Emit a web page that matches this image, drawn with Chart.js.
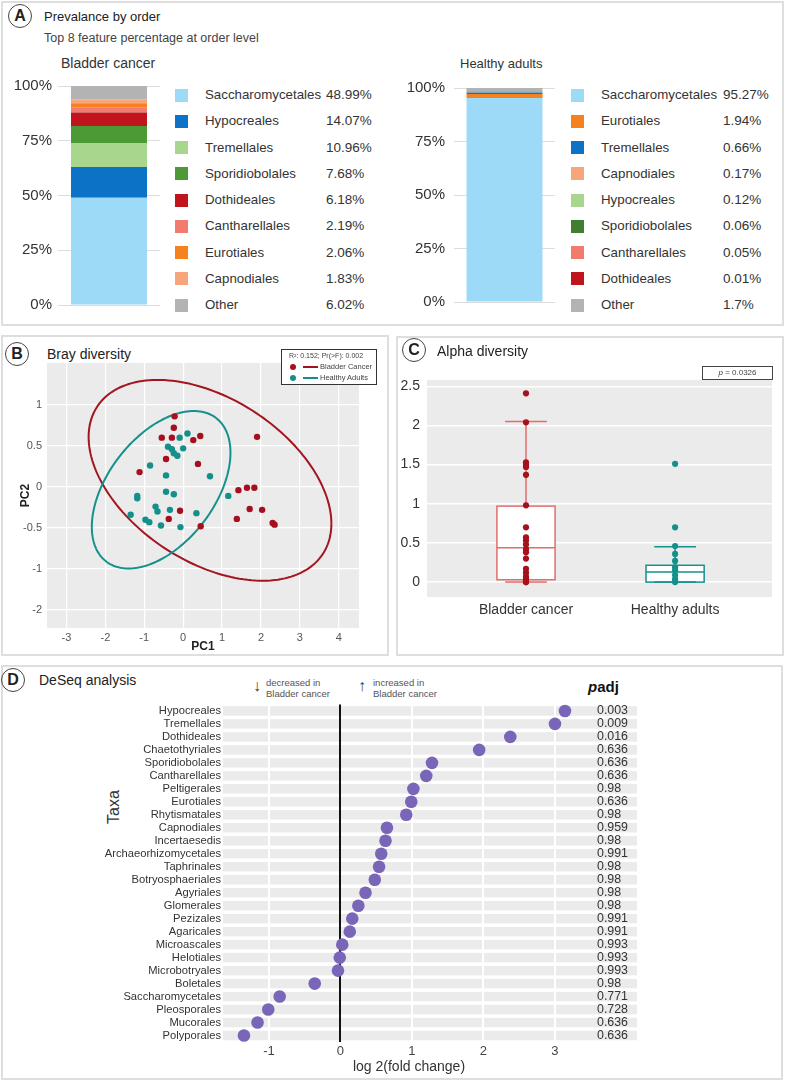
<!DOCTYPE html>
<html>
<head>
<meta charset="utf-8">
<script src="https://cdn.jsdelivr.net/npm/chart.js@4.4.1/dist/chart.umd.min.js"></script>
<style>
body{margin:0;width:785px;height:1082px;position:relative;background:#fff;font-family:"Liberation Sans",Arial,sans-serif;color:#333;overflow:hidden}
.panel{position:absolute;border:2px solid #dedede;box-sizing:border-box}
.t{position:absolute;white-space:nowrap}
.tag{position:absolute;width:22px;height:22px;border:1.5px solid #444;border-radius:50%;font-weight:bold;font-size:16px;text-align:center;line-height:22px;color:#222}
.wrap{position:absolute}
.sq{position:absolute;width:13px;height:13px}
</style>
</head>
<body>
<!-- panel frames -->
<div class="panel" style="left:1px;top:1px;width:783px;height:325px"></div>
<div class="panel" style="left:1px;top:335px;width:388px;height:321px"></div>
<div class="panel" style="left:396px;top:336px;width:388px;height:320px"></div>
<div class="panel" style="left:1px;top:665px;width:782px;height:415px"></div>

<!-- A -->
<div class="tag" style="left:8px;top:4px">A</div>
<div class="t" style="left:44px;top:9px;font-size:13px;color:#222">Prevalance by order</div>
<div class="t" style="left:44px;top:31px;font-size:12.5px;color:#444">Top 8 feature percentage at order level</div>
<div class="t" style="left:61px;top:55px;font-size:14px">Bladder cancer</div>
<div class="t" style="left:460px;top:56px;font-size:13px">Healthy adults</div>
<div class="wrap" style="left:0;top:70px;width:170px;height:250px"><canvas id="a1" width="170" height="250"></canvas></div>
<div class="wrap" style="left:390px;top:70px;width:175px;height:250px"><canvas id="a2" width="175" height="250"></canvas></div>
<div id="legA1"></div>
<div id="legA2"></div>

<!-- B -->
<div class="tag" style="left:5px;top:342px">B</div>
<div class="t" style="left:47px;top:346px;font-size:14px;color:#222">Bray diversity</div>
<div class="wrap" style="left:4px;top:340px;width:362px;height:315px"><canvas id="b" width="362" height="315"></canvas></div>
<div class="t" style="left:281px;top:349px;width:96px;height:36px;border:1px solid #333;background:#fff;box-sizing:border-box">
  <div class="t" style="left:7px;top:2px;font-size:7px;color:#444">R²: 0.152; Pr(&gt;F): 0.002</div>
  <div class="t" style="left:8px;top:14px;width:6px;height:6px;border-radius:50%;background:#a50f1e"></div>
  <div class="t" style="left:21px;top:16px;width:15px;height:2px;background:#a50f1e"></div>
  <div class="t" style="left:38px;top:12px;font-size:7.5px;color:#444">Bladder Cancer</div>
  <div class="t" style="left:8px;top:25px;width:6px;height:6px;border-radius:50%;background:#14908b"></div>
  <div class="t" style="left:21px;top:27px;width:15px;height:2px;background:#14908b"></div>
  <div class="t" style="left:38px;top:23px;font-size:7.5px;color:#444">Healthy Adults</div>
</div>

<!-- C -->
<div class="tag" style="left:402px;top:338px">C</div>
<div class="t" style="left:437px;top:343px;font-size:14px;color:#222">Alpha diversity</div>
<div class="t" style="left:702px;top:366px;width:71px;height:14px;border:1px solid #444;box-sizing:border-box;font-size:8px;text-align:center;line-height:12px;color:#444"><i>p</i> = 0.0326</div>
<div class="wrap" style="left:397px;top:360px;width:385px;height:270px"><canvas id="c" width="385" height="270"></canvas></div>

<!-- D -->
<div class="tag" style="left:1px;top:668px">D</div>
<div class="t" style="left:39px;top:672px;font-size:14px;color:#222">DeSeq analysis</div>
<div class="t" style="left:253px;top:677px;font-size:16px;color:#444;line-height:18px">↓</div>
<div class="t" style="left:266px;top:677px;font-size:9.5px;color:#555;line-height:11px">decreased in<br>Bladder cancer</div>
<div class="t" style="left:358px;top:677px;font-size:16px;color:#444;line-height:18px">↑</div>
<div class="t" style="left:373px;top:677px;font-size:9.5px;color:#555;line-height:11px">increased in<br>Bladder cancer</div>
<div class="t" style="left:588px;top:678px;font-size:15px;font-weight:bold;color:#111"><i>p</i>adj</div>
<div class="t" style="left:97px;top:798px;font-size:16px;color:#333;transform:rotate(-90deg);transform-origin:center">Taxa</div>
<div class="wrap" style="left:4px;top:695px;width:645px;height:382px"><canvas id="d" width="645" height="382"></canvas></div>

<script>
// ---- A: prevalence by order ----
const aTickVals = [0, 25, 50, 75, 100];
const aTickLabels = ["0%", "25%", "50%", "75%", "100%"];
const aBladderNames = ["Saccharomycetales", "Hypocreales", "Tremellales", "Sporidiobolales", "Dothideales", "Cantharellales", "Eurotiales", "Capnodiales", "Other"];
const aBladderVals = [48.99, 14.07, 10.96, 7.68, 6.18, 2.19, 2.06, 1.83, 6.02];
const aBladderColors = ["#9ddaf8", "#0b72c6", "#a9d68d", "#4c9a36", "#c0151d", "#f27b6f", "#f5821f", "#f6a67a", "#b3b3b3"];
const aHealthyNames = ["Saccharomycetales", "Eurotiales", "Tremellales", "Capnodiales", "Hypocreales", "Sporidiobolales", "Cantharellales", "Dothideales", "Other"];
const aHealthyVals = [95.27, 1.94, 0.66, 0.17, 0.12, 0.06, 0.05, 0.01, 1.7];
const aHealthyColors = ["#9ddaf8", "#f5821f", "#0b72c6", "#f6a67a", "#a9d68d", "#3f7f2f", "#f27b6f", "#c0151d", "#b3b3b3"];

// ---- B: Bray diversity ----
const bXTicks = [-3, -2, -1, 0, 1, 2, 3, 4];
const bYTickVals = [1, 0.5, 0, -0.5, -1, -1.5];
const bYTickLabels = ["1", "0.5", "0", "-0.5", "-1", "-2"];
const bCancerX = [-0.22, -0.24, -0.55, -0.29, 0.26, 0.44, 1.90, -0.44, 0.38, -1.12, 1.42, 1.64, 1.83, -0.08, -0.37, 0.45, 1.38, 1.71, 2.03, 2.30, 2.35];
const bCancerY = [0.86, 0.72, 0.60, 0.60, 0.57, 0.62, 0.61, 0.34, 0.28, 0.18, -0.04, -0.01, -0.01, -0.29, -0.39, -0.48, -0.39, -0.27, -0.28, -0.44, -0.46];
const bHealthyX = [0.11, -0.09, -0.39, -0.29, -0.24, -0.15, 0.0, -0.85, -0.44, 0.69, -0.44, -0.24, -1.18, -1.18, 1.16, -0.71, -0.66, -0.34, 0.34, -1.35, -0.97, -0.87, -0.57, -0.07];
const bHealthyY = [0.65, 0.60, 0.49, 0.46, 0.41, 0.38, 0.47, 0.26, 0.14, 0.13, -0.06, -0.09, -0.11, -0.14, -0.11, -0.24, -0.30, -0.28, -0.32, -0.34, -0.40, -0.43, -0.47, -0.49];
// ellipse: centre, and two conjugate half-axis vectors (data units)
const bCancerEllipse = [0.69, 0.08, 3.12, -0.528, 0, 1.104];
const bHealthyEllipse = [-0.566, -0.035, 1.782, 0.452, 0, 0.847];

// ---- C: alpha diversity ----
const cGroups = ["Bladder cancer", "Healthy adults"];
const cYTicks = [0, 0.5, 1, 1.5, 2, 2.5];
const cBladder = [2.41, 2.04, 1.53, 1.50, 1.47, 1.37, 0.98, 0.70, 0.57, 0.53, 0.48, 0.42, 0.38, 0.30, 0.17, 0.12, 0.07, 0.04, 0.01, 0.0, 0.0];
const cHealthy = [1.51, 0.70, 0.46, 0.36, 0.27, 0.19, 0.15, 0.09, 0.04, 0.01, 0.0];
const cQ1 = [0.03, 0.0];
const cMedian = [0.44, 0.13];
const cQ3 = [0.97, 0.215];
const cWhiskLo = [0.0, 0.0];
const cWhiskHi = [2.05, 0.45];

// ---- D: DeSeq ----
const dTaxa = ["Hypocreales", "Tremellales", "Dothideales", "Chaetothyriales", "Sporidiobolales", "Cantharellales", "Peltigerales", "Eurotiales", "Rhytismatales", "Capnodiales", "Incertaesedis", "Archaeorhizomycetales", "Taphrinales", "Botryosphaeriales", "Agyriales", "Glomerales", "Pezizales", "Agaricales", "Microascales", "Helotiales", "Microbotryales", "Boletales", "Saccharomycetales", "Pleosporales", "Mucorales", "Polyporales"];
const dLfc = [3.14, 3.00, 2.375, 1.94, 1.28, 1.20, 1.02, 0.99, 0.92, 0.65, 0.63, 0.57, 0.54, 0.48, 0.35, 0.25, 0.165, 0.13, 0.025, -0.01, -0.035, -0.36, -0.85, -1.01, -1.16, -1.35];
const dPadj = ["0.003", "0.009", "0.016", "0.636", "0.636", "0.636", "0.98", "0.636", "0.98", "0.959", "0.98", "0.991", "0.98", "0.98", "0.98", "0.98", "0.991", "0.991", "0.993", "0.993", "0.993", "0.98", "0.771", "0.728", "0.636", "0.636"];
const dXTicks = [-1, 0, 1, 2, 3];

Chart.defaults.font.family = '"Liberation Sans", Arial, sans-serif';
Chart.defaults.color = "#333";
Chart.defaults.animation = false;
Chart.defaults.plugins.legend.display = false;
Chart.defaults.plugins.tooltip.enabled = false;
Chart.defaults.responsive = false;

// legends for panel A (html)
function buildLegend(el, names, vals, colors, sqX, nameX, pctX) {
  let html = "";
  names.forEach((n, i) => {
    const y = 95 + i * 26.25;
    html += `<div class="sq" style="left:${sqX}px;top:${y - 6.5}px;background:${colors[i]}"></div>`;
    html += `<div class="t" style="left:${nameX}px;top:${y - 8}px;font-size:13.3px;line-height:16px">${n}</div>`;
    html += `<div class="t" style="left:${pctX}px;top:${y - 8}px;font-size:13.5px;line-height:16px">${vals[i]}%</div>`;
  });
  document.getElementById(el).innerHTML = html;
}
buildLegend("legA1", aBladderNames, aBladderVals, aBladderColors, 175, 205, 326);
buildLegend("legA2", aHealthyNames, aHealthyVals, aHealthyColors, 571, 601, 723);

function stackChart(id, names, vals, colors, yWidth, pad, barPct) {
  new Chart(document.getElementById(id), {
    type: "bar",
    data: {
      labels: [""],
      datasets: names.map((n, i) => ({ label: n, data: [vals[i]], backgroundColor: colors[i] }))
    },
    options: {
      layout: { padding: { top: 16, bottom: 9, right: 10 } },
      datasets: { bar: { categoryPercentage: 1, barPercentage: barPct } },
      scales: {
        x: { stacked: true, display: false },
        y: {
          stacked: true, min: 0, max: 100,
          afterFit: s => { s.width = yWidth; },
          afterBuildTicks: s => { s.ticks = aTickVals.map(v => ({ value: v })); },
          ticks: { padding: pad, font: { size: 15 }, color: "#333", callback: v => aTickLabels[aTickVals.indexOf(v)] },
          grid: { color: "#dcdcdc", drawTicks: false },
          border: { display: false }
        }
      }
    }
  });
}
stackChart("a1", aBladderNames, aBladderVals, aBladderColors, 58, 6, 0.745);
stackChart("a2", aHealthyNames, aHealthyVals, aHealthyColors, 64, 9, 0.752);

// gray panel background like ggplot
const panelBg = {
  id: "panelBg",
  beforeDraw(chart, args, opts) {
    if (!opts.color) return;
    const a = chart.chartArea, ctx = chart.ctx;
    ctx.save();
    ctx.fillStyle = opts.color;
    ctx.fillRect(a.left, a.top, a.right - a.left, a.bottom - a.top);
    ctx.restore();
  }
};

// B
const ellipses = {
  id: "ellipses",
  beforeDatasetsDraw(chart) {
    const xs = chart.scales.x, ys = chart.scales.y, ctx = chart.ctx;
    [[bCancerEllipse, "#a3151f"], [bHealthyEllipse, "#15918c"]].forEach(([e, col]) => {
      ctx.save();
      ctx.beginPath();
      for (let k = 0; k <= 180; k++) {
        const t = k / 180 * Math.PI * 2;
        const x = e[0] + e[2] * Math.cos(t) + e[4] * Math.sin(t);
        const y = e[1] + e[3] * Math.cos(t) + e[5] * Math.sin(t);
        const px = xs.getPixelForValue(x), py = ys.getPixelForValue(y);
        if (k === 0) ctx.moveTo(px, py); else ctx.lineTo(px, py);
      }
      ctx.strokeStyle = col;
      ctx.lineWidth = 2;
      ctx.stroke();
      ctx.restore();
    });
  }
};

new Chart(document.getElementById("b"), {
  type: "scatter",
  data: {
    datasets: [
      { label: "Bladder Cancer", data: bCancerX.map((x, i) => ({ x, y: bCancerY[i] })), backgroundColor: "#a50f1e", borderWidth: 0, pointRadius: 3.2 },
      { label: "Healthy Adults", data: bHealthyX.map((x, i) => ({ x, y: bHealthyY[i] })), backgroundColor: "#14908b", borderWidth: 0, pointRadius: 3.2 }
    ]
  },
  options: {
    layout: { padding: { top: 23, right: 7 } },
    plugins: { panelBg: { color: "#ebebeb" } },
    scales: {
      x: {
        min: -3.5, max: 4.52,
        afterFit: s => { s.height = 27; },
        afterBuildTicks: s => { s.ticks = bXTicks.map(v => ({ value: v })); },
        ticks: { padding: 3, font: { size: 11 }, color: "#555" },
        grid: { color: "#fff", lineWidth: 1.2, drawTicks: false },
        border: { display: false },
        title: { display: true, text: "PC1", font: { size: 12, weight: "bold" }, color: "#222", padding: { top: 0, bottom: 1 } }
      },
      y: {
        min: -1.72, max: 1.51,
        afterFit: s => { s.width = 43; },
        afterBuildTicks: s => { s.ticks = bYTickVals.map(v => ({ value: v })); },
        ticks: { padding: 5, font: { size: 11 }, color: "#555", callback: v => bYTickLabels[bYTickVals.indexOf(v)] },
        grid: { color: "#fff", lineWidth: 1.2, drawTicks: false },
        border: { display: false },
        title: { display: true, text: "PC2", font: { size: 12, weight: "bold" }, color: "#222", padding: { top: 14, bottom: 0 } }
      }
    }
  },
  plugins: [panelBg, ellipses]
});

// C
const boxes = {
  id: "boxes",
  beforeDatasetsDraw(chart) {
    const xs = chart.scales.x, ys = chart.scales.y, ctx = chart.ctx;
    const cols = ["#e26d6d", "#17918c"];
    cGroups.forEach((g, i) => {
      const c = i + 1;
      const l = xs.getPixelForValue(c - 0.195), r = xs.getPixelForValue(c + 0.195);
      const cl = xs.getPixelForValue(c - 0.14), cr = xs.getPixelForValue(c + 0.14);
      const cx = xs.getPixelForValue(c);
      const q1 = ys.getPixelForValue(cQ1[i]), q3 = ys.getPixelForValue(cQ3[i]), md = ys.getPixelForValue(cMedian[i]);
      const lo = ys.getPixelForValue(cWhiskLo[i]), hi = ys.getPixelForValue(cWhiskHi[i]);
      ctx.save();
      ctx.strokeStyle = cols[i];
      ctx.lineWidth = 1.5;
      ctx.fillStyle = "#fff";
      ctx.fillRect(l, q3, r - l, q1 - q3);
      ctx.strokeRect(l, q3, r - l, q1 - q3);
      ctx.beginPath();
      ctx.moveTo(l, md); ctx.lineTo(r, md);
      ctx.moveTo(cx, q3); ctx.lineTo(cx, hi);
      ctx.moveTo(cl, hi); ctx.lineTo(cr, hi);
      ctx.moveTo(cx, q1); ctx.lineTo(cx, lo);
      ctx.moveTo(cl, lo); ctx.lineTo(cr, lo);
      ctx.stroke();
      ctx.restore();
    });
  }
};

new Chart(document.getElementById("c"), {
  type: "scatter",
  data: {
    datasets: [
      { data: cBladder.map(v => ({ x: 1, y: v })), backgroundColor: "#a5111c", borderWidth: 0, pointRadius: 3.1 },
      { data: cHealthy.map(v => ({ x: 2, y: v })), backgroundColor: "#14908b", borderWidth: 0, pointRadius: 3.1 }
    ]
  },
  options: {
    layout: { padding: { top: 20, right: 10 } },
    plugins: { panelBg: { color: "#ebebeb" } },
    scales: {
      x: {
        min: 0.336, max: 2.65,
        afterFit: s => { s.height = 33; },
        afterBuildTicks: s => { s.ticks = [{ value: 1 }, { value: 2 }]; },
        ticks: { padding: 5, font: { size: 14 }, color: "#333", callback: v => cGroups[v - 1] },
        grid: { display: false, drawTicks: false },
        border: { display: false }
      },
      y: {
        min: -0.19, max: 2.58,
        afterFit: s => { s.width = 30; },
        afterBuildTicks: s => { s.ticks = cYTicks.map(v => ({ value: v })); },
        ticks: { padding: 7, font: { size: 14 }, color: "#333", callback: v => String(v) },
        grid: { color: "#fff", lineWidth: 1.5, drawTicks: false },
        border: { display: false }
      }
    }
  },
  plugins: [panelBg, boxes]
});

// D
const bands = {
  id: "bands",
  beforeDraw(chart) {
    const ys = chart.scales.y, y2 = chart.scales.y2, ctx = chart.ctx, a = chart.chartArea;
    const pitch = (a.bottom - a.top) / dTaxa.length;
    ctx.save();
    ctx.fillStyle = "#ebebeb";
    dTaxa.forEach((t, i) => {
      const yc = ys.getPixelForValue(i);
      ctx.fillRect(a.left, yc - (pitch - 3.5) / 2, y2.right - a.left, pitch - 3.5);
    });
    ctx.restore();
  }
};

new Chart(document.getElementById("d"), {
  type: "scatter",
  data: {
    datasets: [{
      data: dLfc.map((v, i) => ({ x: v, y: dTaxa[i] })),
      backgroundColor: "#7a66b9", borderWidth: 0, pointRadius: 6.3
    }]
  },
  options: {
    layout: { padding: { top: 7, right: 12 } },
    scales: {
      x: {
        min: -1.643, max: 3.56,
        afterFit: s => { s.height = 35; },
        afterBuildTicks: s => { s.ticks = dXTicks.map(v => ({ value: v })); },
        ticks: { padding: 2, font: { size: 13 }, color: "#444" },
        grid: {
          drawTicks: false,
          color: c => (c.tick && c.tick.value === 0 ? "#111" : "#fff"),
          lineWidth: 2
        },
        border: { display: false },
        title: { display: true, text: "log 2(fold change)", font: { size: 14 }, color: "#333", padding: { top: 0, bottom: 1 } }
      },
      y: {
        type: "category", labels: dTaxa, offset: true,
        afterFit: s => { s.width = 219; },
        ticks: { padding: 2, font: { size: 11.2 }, color: "#333", autoSkip: false },
        grid: { display: false, drawTicks: false },
        border: { display: false }
      },
      y2: {
        type: "category", labels: dPadj, offset: true, position: "right",
        afterFit: s => { s.width = 42; },
        ticks: { padding: 2, font: { size: 12.4 }, color: "#333", autoSkip: false },
        grid: { display: false, drawTicks: false },
        border: { display: false }
      }
    }
  },
  plugins: [bands]
});
</script>
</body>
</html>
